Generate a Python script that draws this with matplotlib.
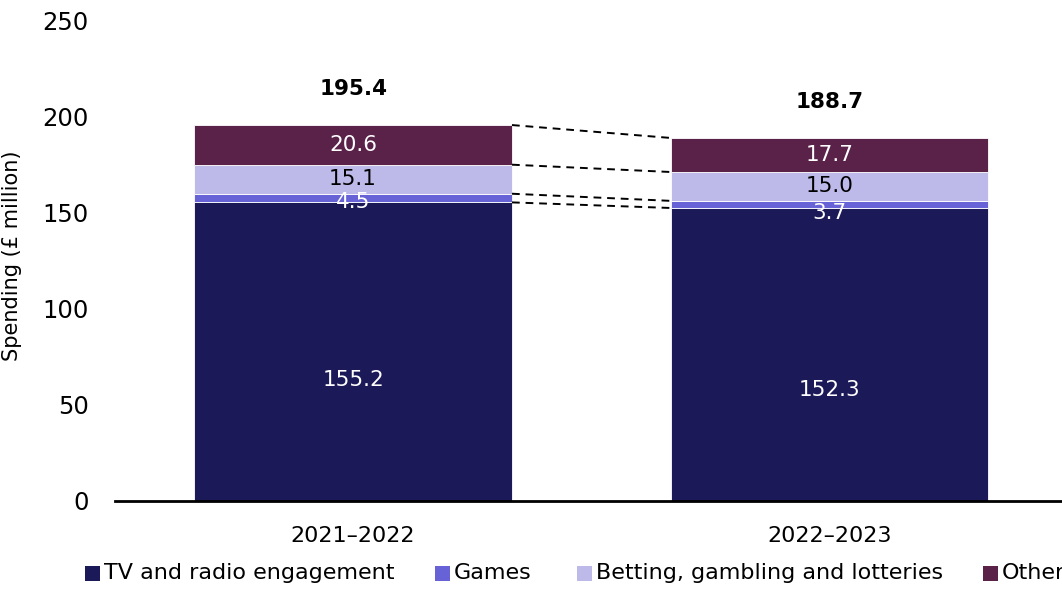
import matplotlib
matplotlib.use("Agg")
import matplotlib.pyplot as plt
from matplotlib.patches import Rectangle
import numpy as np

# Spending by category (£ million)
periods = ["2021\u20132022", "2022\u20132023"]
categories = ["TV and radio engagement", "Games", "Betting, gambling and lotteries", "Other"]
tv_radio = [155.2, 152.3]
games = [4.5, 3.7]
betting = [15.1, 15.0]
other = [20.6, 17.7]
totals = [195.4, 188.7]

series = [tv_radio, games, betting, other]
colors = ["#1b1958", "#6762d6", "#bdbaea", "#5a2149"]
label_colors = ["white", "white", "black", "white"]

plt.rcParams["font.family"] = ["DejaVu Sans"]

W, H = 1062, 590
fig = plt.figure(figsize=(W / 100, H / 100), dpi=100)
ax = fig.add_axes([115 / W, 1 - 501 / H, (1067.5 - 115) / W, (501 - 20) / H])

x = np.arange(len(periods))
width = 0.667
bottom = np.zeros(len(periods))
for vals, col, lc, name in zip(series, colors, label_colors, categories):
    vals = np.array(vals)
    ax.bar(x, vals, width, bottom=bottom, color=col, edgecolor="white",
           linewidth=0.6, label=name, zorder=2)
    for i, v in enumerate(vals):
        if name == categories[0]:
            ypos = bottom[i] + v * (0.405 if i == 0 else 0.38)
        elif name == categories[1]:
            ypos = bottom[i] + v / 2 - (2.0 if i == 0 else 4.5)
        else:
            ypos = bottom[i] + v / 2
        ax.text(x[i], ypos, f"{v:.1f}", ha="center", va="center",
                color=lc, fontsize=15.5, zorder=4)
    bottom = bottom + vals

# Totals above each bar
for i, t in enumerate(totals):
    ax.annotate(f"{t:.1f}", (x[i], t), xytext=(0, 26), textcoords="offset points",
                ha="center", va="center", fontsize=15.5, fontweight="semibold")

# Dashed connectors between matching segment boundaries
cum = np.cumsum(np.array(series), axis=0)
for lv in cum:
    ax.plot([x[0] + width / 2, x[1] - width / 2], [lv[0], lv[1]],
            color="black", linestyle=(0, (4, 3)), linewidth=1.4, zorder=3)

ax.set_xlim(-0.5, 1.5)
ax.set_ylim(0, 250)
ax.set_yticks(np.arange(0, 251, 50))
ax.set_xticks(x)
ax.set_xticklabels(periods)
ax.tick_params(axis="y", length=0, labelsize=17.5, pad=19)
ax.tick_params(axis="x", length=0, labelsize=16, pad=18)
for s in ["top", "right", "left"]:
    ax.spines[s].set_visible(False)
ax.spines["bottom"].set_linewidth(2)
ax.spines["bottom"].set_zorder(5)
ax.set_ylabel("Spending (\u00a3 million)", fontsize=15)
ax.yaxis.set_label_coords((22 - 115) / (1067.5 - 115), 0.51)

# Legend row along the bottom
leg_x = [85, 435, 577, 983]
leg_y = 573
sq = 15
for lx, col, name in zip(leg_x, colors, categories):
    fig.patches.append(Rectangle((lx / W, 1 - (leg_y + sq / 2) / H), sq / W, sq / H,
                                 transform=fig.transFigure, facecolor=col,
                                 edgecolor="none"))
    fig.text((lx + sq + 4) / W, 1 - leg_y / H, name, ha="left", va="center",
             fontsize=16)

fig.savefig("out.png", dpi=100)
